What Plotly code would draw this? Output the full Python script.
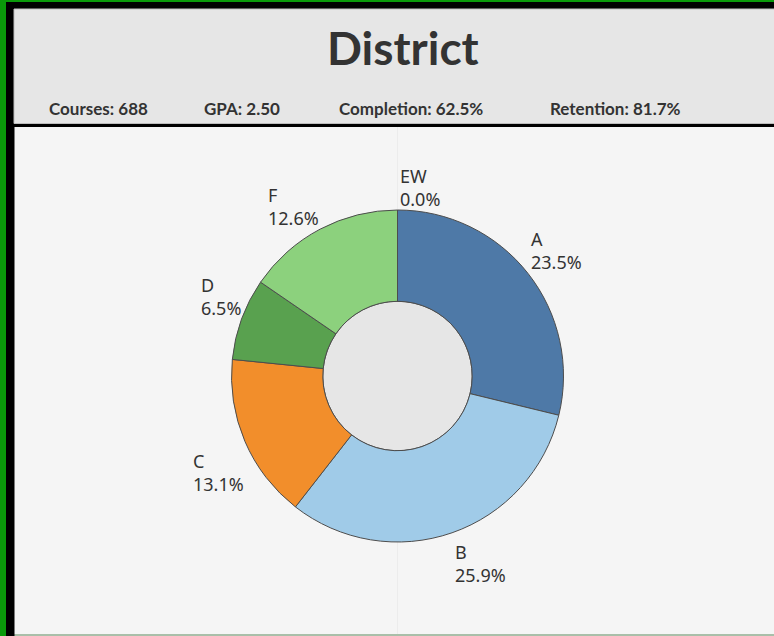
import math
import plotly.graph_objects as go

# ---- data ----
grades = ["A", "B", "C", "D", "F", "EW"]
shares = [23.5, 25.9, 13.1, 6.5, 12.6, 0.0]
colors = ["#4e79a7", "#a0cbe8", "#f28e2b", "#59a14f", "#8cd17d", "#e15759"]
title_text = "District"
stat_labels = ["Courses: 688", "GPA: 2.50", "Completion: 62.5%", "Retention: 81.7%"]

W, H = 774, 636
CX, CY, R = 397.5, 376.0, 166.0
HOLE = 0.45

def px(x):
    return x / W

def py(y):
    return 1 - y / H

fig = go.Figure()
fig.add_trace(go.Pie(
    labels=grades,
    values=shares,
    sort=False,
    direction="clockwise",
    rotation=0,
    hole=HOLE,
    marker=dict(colors=colors, line=dict(color="#4d4d4d", width=1)),
    textinfo="none",
    hoverinfo="label+percent",
    showlegend=False,
    domain=dict(x=[px(CX - R), px(CX + R)], y=[py(CY + R), py(CY - R)]),
))

shapes = [
    dict(type="rect", xref="paper", yref="paper", x0=px(6), x1=1, y0=0, y1=py(2),
         fillcolor="#000000", line_width=0, layer="below"),
    dict(type="rect", xref="paper", yref="paper", x0=px(14), x1=1.01, y0=py(123.5), y1=py(9),
         fillcolor="#e6e6e6", line=dict(color="#bdbdbd", width=1), layer="below"),
    dict(type="rect", xref="paper", yref="paper", x0=px(14.5), x1=1, y0=py(634), y1=py(127),
         fillcolor="#f5f5f5", line_width=0, layer="below"),
    dict(type="rect", xref="paper", yref="paper", x0=px(14.5), x1=1, y0=0, y1=py(634),
         fillcolor="#a9bfa9", line_width=0, layer="below"),
    dict(type="line", xref="paper", yref="paper", x0=px(CX), x1=px(CX), y0=py(634), y1=py(127),
         line=dict(color="#ececec", width=1), layer="below"),
    dict(type="circle", xref="paper", yref="paper",
         x0=px(CX - R * HOLE), x1=px(CX + R * HOLE),
         y0=py(CY + R * HOLE), y1=py(CY - R * HOLE),
         fillcolor="#e6e6e6", line=dict(color="#4d4d4d", width=1), layer="below"),
]

annotations = [
    dict(text=title_text, x=px(403), y=py(48), xref="paper", yref="paper",
         xanchor="center", yanchor="middle", showarrow=False,
         font=dict(family="Lato", size=46, color="#333333", weight="bold")),
]
stat_x = [47, 202, 337, 548]
for sx, s in zip(stat_x, stat_labels):
    annotations.append(dict(text=s, x=px(sx), y=py(108.5), xref="paper", yref="paper",
                            xanchor="left", yanchor="middle", showarrow=False,
                            font=dict(family="Lato", size=17, color="#333333", weight="bold")))

# slice labels placed off the rim point at each slice's mid angle
total = sum(shares)
cum = 0.0
lab_font = dict(family="Noto Sans", size=18, color="#333333")
for g, v in zip(grades, shares):
    mid = (cum + v / 2) / total
    cum += v
    ang = (mid % 1.0) * 2 * math.pi
    s, c = math.sin(ang), math.cos(ang)
    if abs(s) < 1e-9:
        s = 0.0
    rx, ry = CX + R * s, CY - R * c
    xa = "left" if s >= 0 else "right"
    cy = ry - 23 if c > 0 else ry + 31
    annotations.append(dict(text=f"{g}<br>{v:.1f}%", x=px(rx + 1), y=py(cy),
                            xref="paper", yref="paper", xanchor=xa, yanchor="middle",
                            align="left", showarrow=False, font=lab_font))

fig.update_layout(
    width=W, height=H,
    margin=dict(l=0, r=0, t=0, b=0),
    paper_bgcolor="#0a9a0a",
    plot_bgcolor="rgba(0,0,0,0)",
    shapes=shapes,
    annotations=annotations,
    xaxis=dict(visible=False), yaxis=dict(visible=False),
)
fig.write_html("out.html", config={"displayModeBar": False},
               post_script="document.body.style.margin='0';")
